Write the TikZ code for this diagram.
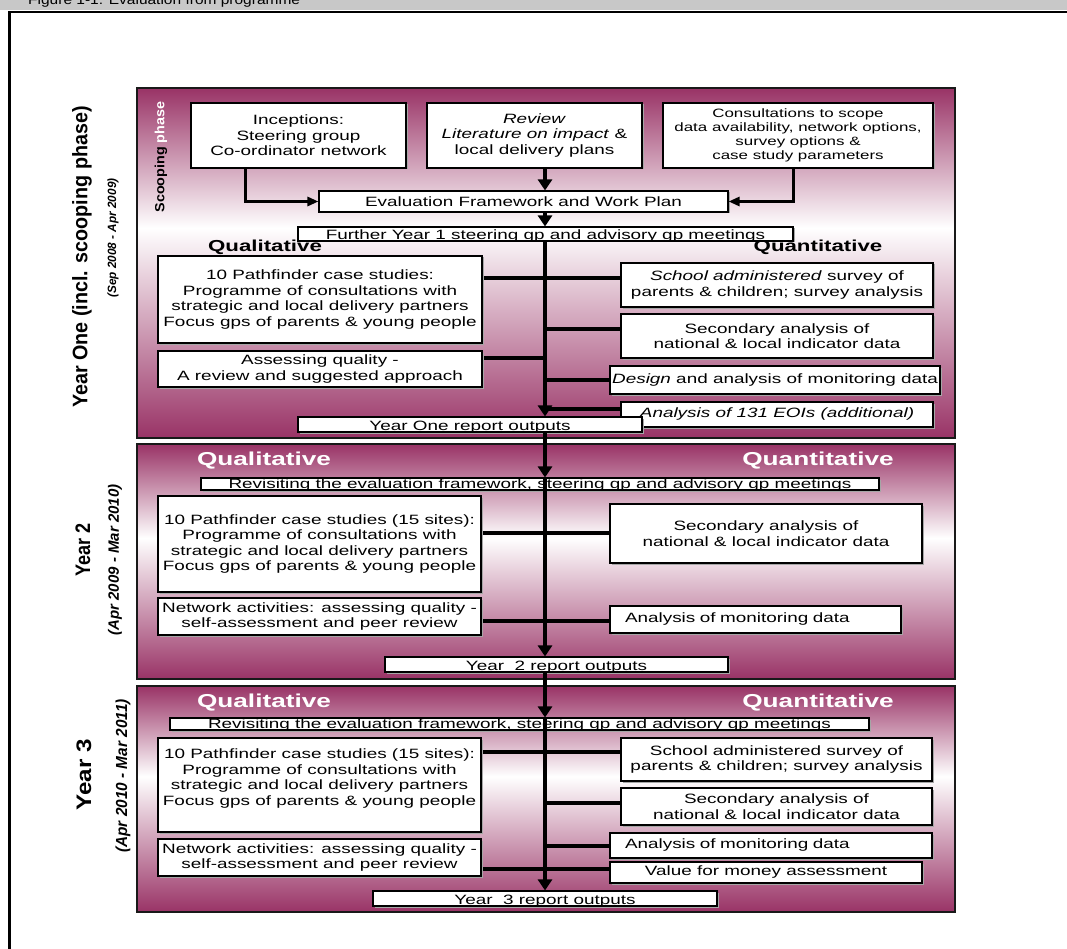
\documentclass[tikz,border=0pt]{standalone}
\usepackage{fontspec}
\setmainfont{Liberation Sans}[FakeStretch=1.4]
\newfontfamily\rotfont{Liberation Sans}
\usetikzlibrary{arrows.meta,shadows}
\definecolor{maroon}{RGB}{153,51,102}
\definecolor{hdr}{RGB}{200,200,200}
\pgfdeclareverticalshading{panelshade}{100bp}{color(0bp)=(maroon); color(25bp)=(maroon); color(55bp)=(white); color(75bp)=(maroon); color(100bp)=(maroon)}
\newcommand\placebox[6]{\pgfmathsetmacro\rbw{#5-#3}\pgfmathsetmacro\rbh{#6-#4}\pgfmathsetmacro\rbt{#6-#4-1.5}\pgfmathsetmacro\rbtw{#5-#3-30}\pgfmathsetmacro\rbx{(#3+#5)/2}\pgfmathsetmacro\rby{(#4+#6)/2}\node[#1,minimum width=\rbw pt,minimum height=\rbh pt] (#2) at (\rbx,\rby)}
\tikzset{
 box/.style={draw=black, line width=1.1pt, fill=white, align=center, inner sep=0pt, font=\fontsize{13.5}{15.6}\selectfont, general shadow={fill=black!35, shadow xshift=1.5pt, shadow yshift=-1.5pt}},
 strip/.style={box, text height=\rbt pt, text depth=1.5pt},
 lefttext/.style={box, align=left, text width=\rbtw pt},
 smalltext/.style={box, font=\fontsize{12.1}{14.1}\selectfont},
 panel/.style={draw=black!90, line width=1.4pt, shade, shading=panelshade, inner sep=0pt},
 spine/.style={line width=4.5pt, -{Triangle[width=14pt,length=11pt]}},
 spineline/.style={line width=4.5pt},
 conn/.style={line width=3.5pt},
 thinarrow/.style={line width=3pt, -{Triangle[width=9pt,length=11pt]}},
 headblack/.style={font=\bfseries\fontsize{15.9}{18}\selectfont, inner sep=0pt},
 headwhite/.style={text=white, font=\bfseries\fontsize{18.7}{21}\selectfont, inner sep=0pt},
 yearlab/.style={rotate=90, inner sep=0pt, font=\rotfont\bfseries\fontsize{21}{24}\selectfont},
}
\begin{document}
\begin{tikzpicture}[x=1pt,y=-1pt]
\path[use as bounding box] (0,0) rectangle (1067,949);
\clip (0,0) rectangle (1067,949);
% header
\fill[hdr] (0,0) rectangle (1067,10.5);
\node[anchor=base west, inner sep=0pt, font=\fontsize{13.5}{15}\selectfont] (title) at (28,4.5) {\scalebox{0.82}[1]{Figure 1-1: Evaluation from programme}};
\draw[line width=2.5pt] (1070,11.8) -- (9.5,11.8) -- (9.5,952);
% panels
\placebox{panel}{p1}{137}{88}{955}{438} {};
\placebox{panel}{p2}{137}{444}{955}{679} {};
\placebox{panel}{p3}{137}{686}{955}{912} {};
% side labels
\node[yearlab] (y1lab) at (82,257) {\scalebox{0.94}[1]{Year One (incl. scooping phase)}};
\node[rotate=90, inner sep=0pt, font={\rotfont\bfseries\itshape\fontsize{12}{14}\selectfont}] (y1date) at (113,238) {\scalebox{0.98}[1]{(Sep 2008 - Apr 2009)}};
\node[yearlab] (y2lab) at (83,550) {\scalebox{0.86}[1]{Year 2}};
\node[rotate=90, inner sep=0pt, font={\rotfont\bfseries\itshape\fontsize{15}{17}\selectfont}] (y2date) at (115,560) {\scalebox{1.0}[1]{(Apr 2009 - Mar 2010)}};
\node[yearlab] (y3lab) at (84,775) {\scalebox{1.15}[1]{Year 3}};
\node[rotate=90, inner sep=0pt, font={\rotfont\bfseries\itshape\fontsize{16}{18}\selectfont}] (y3date) at (123,776) {\scalebox{0.96}[1]{(Apr 2010 - Mar 2011)}};
\node[rotate=90, inner sep=0pt, font={\rotfont\bfseries\fontsize{13.3}{15}\selectfont}] (scoop) at (161,157) {\scalebox{1.08}[1]{Scooping \textcolor{white}{phase}}};
% headings
\node[headblack] (ql1) at (265,247) {Qualitative};
\node[headblack] (qn1) at (818,247) {Quantitative};
\node[headwhite] (ql2) at (264,461) {Qualitative};
\node[headwhite] (qn2) at (818,461) {Quantitative};
\node[headwhite] (ql3) at (264,703) {Qualitative};
\node[headwhite] (qn3) at (818,703) {Quantitative};
% coordinates
\coordinate (sp) at (545,0);
\coordinate (ci) at (245,0);
\coordinate (cc) at (793,0);
\coordinate (l278) at (0,278);
\coordinate (l329) at (0,329);
\coordinate (l358) at (0,358);
\coordinate (l409) at (0,409);
\coordinate (l533) at (0,533);
\coordinate (l621) at (0,621);
\coordinate (l752) at (0,752);
\coordinate (l803) at (0,803);
\coordinate (l869) at (0,869);
% panel 1 boxes
\placebox{box}{inc}{191}{103}{406}{168} {Inceptions:\\Steering group\\Co-ordinator network};
\placebox{box}{rev}{427}{103}{642}{168} {\textit{Review}\\\textit{Literature on impact} \&\\local delivery plans};
\placebox{smalltext}{cons}{663}{103}{933}{168} {Consultations to scope\\data availability, network options,\\survey options \&\\case study parameters};
\placebox{box}{eval}{319}{191}{728}{212} {Evaluation Framework and Work Plan};
\placebox{strip}{further}{298}{227}{793}{241} {Further Year 1 steering gp and advisory gp meetings};
% panel 1 connectors
\draw[conn] (l278 -| 482,0) -- (l278 -| 621,0);
\draw[conn] (l358 -| 482,0) -- (sp |- l358);
\draw[conn] (l329 -| 621,0) -- (sp |- l329);
\draw[conn] (610,380) -- (sp |- 0,380);
\draw[conn] (l409 -| 621,0) -- (sp |- l409);
\placebox{box}{A1}{158}{256}{482}{343} {10 Pathfinder case studies:\\Programme of consultations with\\strategic and local delivery partners\\Focus gps of parents \& young people};
\placebox{box}{B1}{158}{351}{482}{387} {Assessing quality -\\A review and suggested approach};
\placebox{box}{R11}{621}{263}{933}{307} {\textit{School administered} survey of\\parents \& children; survey analysis};
\placebox{box}{R12}{621}{314}{933}{358} {Secondary analysis of\\national \& local indicator data};
\placebox{box}{R13}{610}{366}{940}{394} {\textit{Design} and analysis of monitoring data};
\placebox{box}{R14}{621}{402}{933}{427} {\textit{Analysis of 131 EOIs (additional)}};
\placebox{strip}{y1rep}{298}{417}{642}{432} {Year One report outputs};
% panel 2
\draw[conn] (l533 -| 481,0) -- (l533 -| 610,0);
\draw[conn] (l621 -| 481,0) -- (l621 -| 610,0);
\placebox{strip}{rev2}{201}{478}{879}{490} {Revisiting the evaluation framework, steering gp and advisory gp meetings};
\placebox{box}{A2}{158}{496}{481}{592} {10 Pathfinder case studies (15 sites):\\Programme of consultations with\\strategic and local delivery partners\\Focus gps of parents \& young people};
\placebox{box}{R22}{610}{504}{922}{563} {Secondary analysis of\\national \& local indicator data};
\placebox{box}{N2}{158}{598}{481}{635} {Network activities: assessing quality -\\self-assessment and peer review};
\placebox{lefttext}{M2}{610}{606}{901}{633} {Analysis of monitoring data};
\placebox{strip}{y2rep}{385}{657}{728}{672} {Year\ \ 2 report outputs};
% panel 3
\draw[conn] (l752 -| 481,0) -- (l752 -| 621,0);
\draw[conn] (l803 -| 621,0) -- (sp |- l803);
\draw[conn] (610,846) -- (sp |- 0,846);
\draw[conn] (l869 -| 481,0) -- (l869 -| 610,0);
\placebox{strip}{rev3}{170}{718}{869}{730} {Revisiting the evaluation framework, steering gp and advisory gp meetings};
\placebox{box}{A3}{158}{738}{481}{832} {10 Pathfinder case studies (15 sites):\\Programme of consultations with\\strategic and local delivery partners\\Focus gps of parents \& young people\\ \mbox{}};
\placebox{box}{R31}{621}{738}{932}{781} {School administered survey of\\parents \& children; survey analysis};
\placebox{box}{R32}{621}{788}{932}{825} {Secondary analysis of\\national \& local indicator data};
\placebox{lefttext}{R33}{610}{833}{932}{858} {Analysis of monitoring data};
\placebox{box}{R34}{610}{862}{922}{883} {Value for money assessment};
\placebox{box}{N3}{158}{839}{481}{876} {Network activities: assessing quality -\\self-assessment and peer review};
\placebox{strip}{y3rep}{373}{891}{717}{906} {Year\ \ 3 report outputs};
% top arrows
\draw[thinarrow] (inc.south -| ci) |- (eval.west);
\draw[thinarrow] (cons.south -| cc) |- (eval.east);
% spine
\draw[spine] (rev.south -| sp) -- (eval.north -| sp);
\draw[spine] (eval.south -| sp) -- (further.north -| sp);
\draw[spine] (further.south -| sp) -- (y1rep.north -| sp);
\draw[spine] (y1rep.south -| sp) -- (rev2.north -| sp);
\draw[spineline] (rev2.north -| sp) -- (rev2.south -| sp);
\draw[spine] (rev2.south -| sp) -- (y2rep.north -| sp);
\draw[spine] (y2rep.south -| sp) -- (rev3.north -| sp);
\draw[spineline] (rev3.north -| sp) -- (rev3.south -| sp);
\draw[spine] (rev3.south -| sp) -- (y3rep.north -| sp);
\end{tikzpicture}
\end{document}
